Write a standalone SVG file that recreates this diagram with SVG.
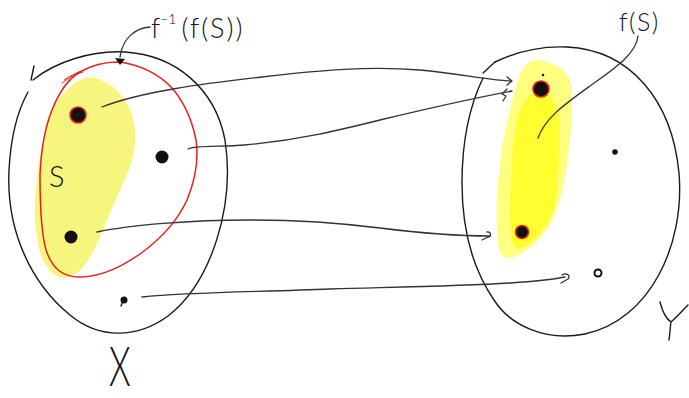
<svg xmlns="http://www.w3.org/2000/svg" width="689" height="398" viewBox="0 0 689 398">
<style>
.set{fill:none;stroke:#1a1a1a;stroke-width:1.4;stroke-linecap:round}
.conn{fill:none;stroke:#333;stroke-width:1.3;stroke-linecap:round;stroke-linejoin:round}
.dot{fill:#111}
.rdot{fill:#111;stroke:#e8201a;stroke-width:1.6}
.lbl{font-family:"Lato","Open Sans","Liberation Sans",sans-serif;font-weight:300;fill:#111}
</style>
<rect width="689" height="398" fill="#fff"/>

<g id="setX">
  <path d="M33,80 C55,62 92,50 125,52 C175,55 215,88 225,140 C235,205 212,282 168,316 C138,338 100,340 70,315 C32,284 6,232 9,170 C11,132 18,110 28,92" class="set"/>
  <path d="M34,66 L31,80" class="set"/>
  <text class="lbl" x="0" y="0" font-size="56" transform="translate(109,386) scale(0.62,1)">X</text>
</g>

<g id="subsetS">
  <path d="M90,77 C100,79 108,83 113,87 C125,97 133,110 135,130 C137,150 130,170 123,183 C116,200 110,212 104,228 C98,242 92,256 84,266 C76,276 66,280 57,276 C46,270 39,255 37,237 C34,220 34,205 36,190 C38,170 40,155 43,143 C47,125 50,110 57,102 C64,92 75,79 90,77 Z" fill="#f6f67f"/>
  <text class="lbl" x="49" y="187" font-size="29">S</text>
</g>

<g id="preimage">
  <path d="M118,62 C140,64 160,75 172,88 C185,103 192,120 196,140 C199,160 196,178 187,200 C177,222 162,238 140,254 C120,268 100,277 80,277 C62,277 52,268 46,250 C41,232 40,205 40,175 C41,150 44,130 52,110 C58,95 66,80 80,72 C92,65 105,62 118,62 Z" fill="none" stroke="#e8201a" stroke-width="1.5"/>
  <path d="M62,83 C70,77 76,74 83,72 M64,80 C70,76 76,73 81,71" fill="none" stroke="#e8201a" stroke-width="1"/>
  <path d="M150,27 C136,28 123,37 120,57" class="conn" stroke-width="1.6"/>
  <path d="M115,58 L125,59 L120,65 Z" fill="#111"/>
  <text class="lbl" x="151" y="38" font-size="27">f<tspan font-size="14" dy="-14">−1</tspan><tspan dy="14" dx="5" letter-spacing="2">(f(S))</tspan></text>
</g>

<g id="x1"><circle cx="78" cy="115" r="8" class="rdot"/></g>
<g id="x2"><circle cx="162" cy="157" r="6.5" class="dot"/></g>
<g id="x3"><circle cx="71" cy="237" r="6.5" class="dot"/></g>
<g id="x4"><circle cx="124" cy="300" r="3.5" class="dot"/><path d="M123,301 L121,306" class="set" stroke-width="1.8"/></g>

<g id="setY">
  <path d="M495,62 C520,50 545,46 567,47 C630,50 672,100 679,173 C685,245 650,320 585,334 C545,342 510,325 494,300 C470,265 462,225 462,183 C462,140 470,105 483,78" class="set"/>
  <path d="M483,73 L495,62" class="set"/>
  <path d="M660,302 C662,310 665,318 671,322 C678,316 683,310 688,305 M671,322 C670,328 670,334 669,340" class="set" stroke-width="2"/>
</g>

<g id="imageFS">
  <path d="M537,60 C555,62 568,70 571,85 C574,110 570,150 563,187 C558,210 552,225 540,238 C530,248 518,258 507,258 C499,256 497,245 497,230 C496,210 497,190 499,175 C501,150 505,130 510,110 C514,92 518,78 522,70 C526,63 531,60 537,60 Z" fill="#ffff80"/>
  <path d="M543,90 C555,95 561,115 560,140 C559,165 558,185 555,205 C550,222 540,235 528,245 C518,252 512,248 511,235 C509,215 510,190 512,165 C513,140 516,118 522,105 C528,94 535,89 543,90 Z" fill="#ffff30"/>
  <text class="lbl" x="619" y="31" font-size="25" letter-spacing="1.5">f(S)</text>
  <path d="M638,36 C636,55 612,70 590,86 C565,104 545,118 538,138" class="conn"/>
</g>

<g id="y1"><circle cx="541" cy="89" r="8" class="rdot"/><circle cx="543" cy="75" r="1.3" class="dot"/></g>
<g id="y2"><circle cx="615" cy="152" r="2.8" class="dot"/></g>
<g id="y3"><circle cx="522" cy="232" r="6.5" class="rdot"/></g>
<g id="y4"><circle cx="598" cy="273" r="3.5" fill="none" stroke="#111" stroke-width="2"/></g>

<g id="connectors">
  <path d="M102,107 C140,92 200,84 262,77 C320,70 370,66 420,70 C460,74 490,80 511,81" class="conn"/>
  <path d="M507,77 L512,81 L507,85" class="conn"/>
  <path d="M188,149 C195,145 220,147 245,145 C300,140 340,130 380,120 C430,108 475,98 512,91" class="conn"/>
  <path d="M507,89 L502,94 L506,96 L503,101" class="conn"/>
  <path d="M97,232 C130,225 190,220 250,220 C300,220 340,223 380,228 C420,233 460,236 490,236" class="conn"/>
  <path d="M487,232 C491,231 492,237 488,237 L482,240" class="conn"/>
  <path d="M142,297 C190,292 260,292 330,289 C400,287 460,286 510,283 C540,281 555,279 565,277" class="conn"/>
  <path d="M562,275 C567,272 571,276 568,279 L561,283" class="conn"/>
</g>
</svg>
